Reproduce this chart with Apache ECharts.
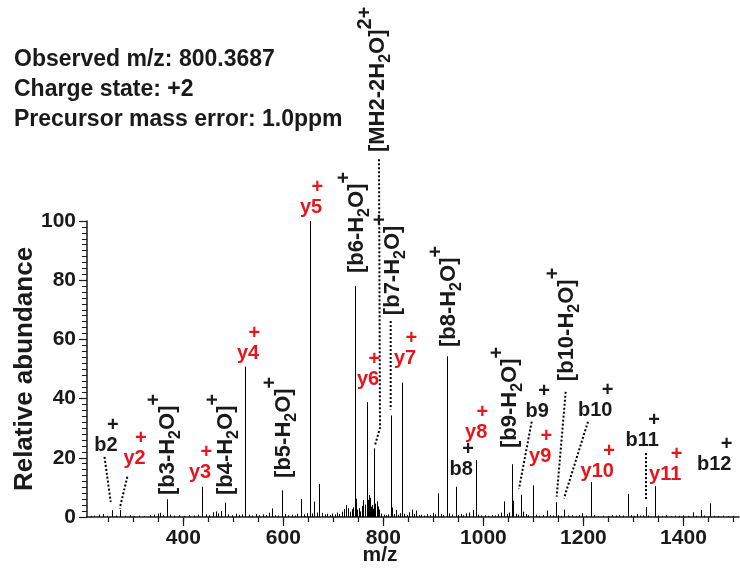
<!DOCTYPE html>
<html><head><meta charset="utf-8">
<script src="https://cdn.jsdelivr.net/npm/echarts@6/dist/echarts.min.js"></script>
<style>html,body{margin:0;padding:0;background:#fff}#c{width:740px;height:570px}</style>
</head><body><div id="c"></div>
<script>
const FONT = '"Liberation Sans", Arial, Helvetica, sans-serif';

// ---- Data ----
const peakMz = [215,222,232,239,247,258,265,274,283,293,301,312,322,333,341,349,353,360,367,374,382,392,401,412,421,430,437,445,452,459,465,470,475,483,490,497,505,512,517,524,531,538,545,552,560,566,572,578,584,590,597,603,610,617,623,628,635,641,647,654,658,662,667,671,677,683,688,693,698,703,708,712,717,721,725,729,733,737,740,743,745,748,751,754,757,760,763,767,769,771,773,775,777,779,782,784,787,789,792,796,801,806,810,815,817,821,825,830,834,838,842,847,852,857,862,866,871,876,882,888,893,899,904,910,915,920,928,932,938,945,950,955,960,966,972,979,985,990,996,1003,1010,1017,1024,1030,1036,1041,1047,1052,1057,1059,1065,1070,1075,1080,1085,1090,1100,1106,1112,1120,1127,1133,1139,1145,1150,1156,1162,1170,1178,1185,1192,1198,1205,1215,1222,1230,1240,1250,1258,1266,1272,1280,1290,1296,1302,1308,1313,1320,1325,1330,1343,1350,1358,1366,1375,1384,1392,1400,1410,1419,1426,1435,1442,1454,1462,1470,1480,1490,1500];
const peakAbund = [0.4,0.5,0.8,1.0,0.4,2.3,0.5,2.4,0.4,0.6,0.3,0.5,0.4,0.6,0.8,1.2,1.4,0.6,6.0,0.8,0.5,0.6,0.4,0.7,0.5,0.8,10.2,0.9,0.6,1.6,1.9,1.2,2.0,4.8,0.9,0.6,1.1,0.7,0.9,50.8,0.8,0.5,1.0,0.6,0.9,0.7,1.4,2.9,0.6,0.5,9.0,1.0,0.6,0.8,0.5,1.1,6.1,0.9,1.3,100,1.2,5.2,1.5,11.2,1.4,0.9,1.1,0.7,1.2,0.9,1.5,1.0,1.8,2.7,4.0,3.0,1.8,2.6,3.3,78.0,6.2,2.5,3.0,1.9,3.8,5.7,4.2,38.8,5.8,7.4,6.5,3.5,4.0,2.8,23.2,4.5,5.3,3.6,2.5,1.2,0.8,0.6,0.9,34.3,3.2,1.0,2.4,0.8,1.3,45.4,1.1,0.7,1.6,2.5,1.0,2.2,0.6,0.8,0.5,1.0,0.7,1.4,0.9,8.0,1.0,0.7,54.3,1.2,0.8,10.2,0.7,1.0,0.6,1.2,1.5,2.4,19.2,0.8,0.5,0.6,0.4,0.7,0.5,0.9,1.5,5.3,1.0,1.5,17.8,5.5,1.1,0.8,7.5,1.8,1.0,0.6,10.7,0.8,0.5,0.7,2.2,0.6,0.5,5.0,0.6,0.4,2.5,0.5,0.6,0.4,0.7,1.3,0.5,11.8,0.6,0.4,0.5,0.3,0.6,0.5,0.7,0.5,7.8,0.6,0.4,1.0,0.5,0.6,3.4,0.5,10.4,0.5,0.4,0.6,0.3,0.5,0.4,0.5,0.4,1.6,0.4,2.4,0.5,4.6,0.4,0.3,0.5,0.3,0.4];

const xLabelTicks = [400,600,800,1000,1200,1400];
const xMinorTicks = [250,300,350,400,450,500,550,600,650,700,750,800,850,900,950,1000,1050,1100,1150,1200,1250,1300,1350,1400,1450,1500];
const yTickLabels = [0,20,40,60,80,100];
const infoLines = ['Observed m/z: 800.3687','Charge state: +2','Precursor mass error: 1.0ppm'];

// fragment ion labels (horizontal), with '+' charge above
const ionLabelText = ['b2','y2','y3','y4','y5','y6','y7','b8','y8','b9','y9','b10','y10','b11','y11','b12'];
// neutral-loss labels (vertical). '_' = subscript next char, '^' = superscript rest
const lossLabelText = ['[b3-H_2O]^+','[b4-H_2O]^+','[b5-H_2O]^+','[b6-H_2O]^+','[MH2-2H_2O]^2+','[b7-H_2O]^+','[b8-H_2O]^+','[b9-H_2O]^+','[b10-H_2O]^+'];

// ---- Layout (label anchors in data units: m/z, abundance) ----
const ionLabelPos = [[245.5,24.3],[302.5,19.6],[433.5,15.2],[529.5,55.1],[655.5,104.4],[769.5,46.6],[843.5,53.7],[955.5,16.2],[985.5,28.7],[1107.5,35.5],[1113.5,20.3],[1223.5,36.1],[1227.5,15.5],[1317.5,26.0],[1363.5,14.4],[1461.5,17.6]];
const lossLabelPos = [[369.4,7.4],[485.4,7.4],[601.3,13.2],[747.3,82.4],[789.3,123.3],[819.3,68.2],[931.2,57.4],[1053.2,23.3],[1167.1,45.9]];
const leaderPaths = [
  [[242.5,20.3],[254.9,5.1]],
  [[288.1,13.6],[272.9,2.9]],
  [[791.3,120.9],[793.3,30.1],[783.3,24.3]],
  [[814.6,66.2],[814.6,36.3]],
  [[1096.5,32.2],[1071.1,9.5]],
  [[1164.5,42.3],[1146.5,6.9]],
  [[1209.1,32.2],[1161.1,6.3]],
  [[1325,21.6],[1325,5.7]]
];

// ---- Styles ----
const BLACK = '#1a1a1a';
const RED = '#e8141c';
const H_SIZE = 20, PLUS_SIZE = 20, V_SIZE = 22, SUB_SIZE = 16, SUP_SIZE = 20;

const mctx = document.createElement('canvas').getContext('2d');
function textW(s, size){ mctx.font = 'bold ' + size + 'px ' + FONT; return mctx.measureText(s).width; }
function parseLabel(s){
  const pieces = []; let buf = '';
  for (let i = 0; i < s.length; i++){
    const ch = s[i];
    if (ch === '_'){ if (buf) pieces.push({t:buf, k:'n'}); buf=''; pieces.push({t:s[i+1], k:'sub'}); i++; }
    else if (ch === '^'){ if (buf) pieces.push({t:buf, k:'n'}); buf=''; pieces.push({t:s.slice(i+1), k:'sup'}); break; }
    else buf += ch;
  }
  if (buf) pieces.push({t:buf, k:'n'});
  return pieces;
}

const chart = echarts.init(document.getElementById('c'), null, {renderer:'canvas'});
const xMin = 207.5, xMax = 1511;

const option = {
  animation: false,
  grid: {left: 87, right: 1, top: 221, bottom: 53, containLabel: false},
  xAxis: [
    {type:'value', min:xMin, max:xMax, position:'bottom',
     axisLine:{show:true, lineStyle:{color:BLACK, width:1.5}},
     axisTick:{show:true, customValues:xLabelTicks, length:9, lineStyle:{color:BLACK, width:1.2}},
     axisLabel:{show:true, customValues:xLabelTicks, margin:11, fontSize:21, fontWeight:'bold', fontFamily:FONT, color:BLACK,
       formatter: v => String(v)},
     splitLine:{show:false}},
    {type:'value', min:xMin, max:xMax, position:'bottom',
     axisLine:{show:false},
     axisTick:{show:true, customValues:xMinorTicks, length:5, lineStyle:{color:BLACK, width:1.2}},
     axisLabel:{show:false}, splitLine:{show:false}}
  ],
  yAxis: {type:'value', min:0, max:100, interval:20,
    axisLine:{show:true, lineStyle:{color:BLACK, width:1.5}},
    axisTick:{show:true, length:8, lineStyle:{color:BLACK, width:1.2}},
    minorTick:{show:true, splitNumber:10, length:5, lineStyle:{color:BLACK, width:1}},
    axisLabel:{margin:11, fontSize:21, fontWeight:'bold', fontFamily:FONT, color:BLACK,
      formatter: v => yTickLabels.indexOf(v) >= 0 ? String(v) : ''},
    splitLine:{show:false}},
  graphic: [
    ...infoLines.map((t, i) => ({type:'text', x:14, y:60 + i*30,
      style:{text:t, font:'bold 23px ' + FONT, fill:BLACK, align:'left', verticalAlign:'middle'}})),
    {type:'text', x:25, y:369, rotation:Math.PI/2,
      style:{text:'Relative abundance', font:'bold 26px ' + FONT, fill:BLACK, align:'center', verticalAlign:'middle'}},
    {type:'text', x:380, y:555,
      style:{text:'m/z', font:'bold 21px ' + FONT, fill:BLACK, align:'center', verticalAlign:'middle'}}
  ],
  series: [
    {type:'custom', name:'peaks', xAxisIndex:0, clip:false,
     data: peakMz.map((m, i) => [m, peakAbund[i]]),
     renderItem(params, api){
       const p0 = api.coord([api.value(0), 0]);
       const p1 = api.coord([api.value(0), api.value(1)]);
       const x = Math.round(p0[0]) + 0.5;
       return {type:'line', shape:{x1:x, y1:p0[1], x2:x, y2:p1[1]}, style:{stroke:'#000', lineWidth:1}};
     }},
    {type:'custom', name:'leaders', xAxisIndex:0, clip:false,
     data: leaderPaths.map(p => p[0]),
     renderItem(params, api){
       const pts = leaderPaths[params.dataIndex].map(p => api.coord(p));
       return {type:'polyline', shape:{points:pts}, style:{stroke:'#000', lineWidth:2, lineDash:[2,2], fill:null}};
     }},
    {type:'custom', name:'ionLabels', xAxisIndex:0, clip:false,
     data: ionLabelPos,
     renderItem(params, api){
       const i = params.dataIndex;
       const txt = ionLabelText[i];
       const color = txt[0] === 'y' ? RED : BLACK;
       const p = api.coord([api.value(0), api.value(1)]);
       const w = textW(txt, H_SIZE);
       return {type:'group', x:p[0], y:p[1], children:[
         {type:'text', style:{text:txt, x:0, y:0, align:'center', verticalAlign:'middle', font:'bold ' + H_SIZE + 'px ' + FONT, fill:color}},
         {type:'text', style:{text:'+', x:w/2 + 1, y:-20, align:'right', verticalAlign:'middle', font:'bold ' + PLUS_SIZE + 'px ' + FONT, fill:color}}
       ]};
     }},
    {type:'custom', name:'lossLabels', xAxisIndex:0, clip:false,
     data: lossLabelPos,
     renderItem(params, api){
       const i = params.dataIndex;
       const pieces = parseLabel(lossLabelText[i]);
       const p = api.coord([api.value(0), api.value(1)]);
       const children = [];
       let cx = 0;
       pieces.forEach(pc => {
         const size = pc.k === 'n' ? V_SIZE : (pc.k === 'sub' ? SUB_SIZE : SUP_SIZE);
         const dy = pc.k === 'n' ? 0 : (pc.k === 'sub' ? 8 : -13);
         children.push({type:'text', style:{text:pc.t, x:cx, y:dy, align:'left', verticalAlign:'middle', font:'bold ' + size + 'px ' + FONT, fill:BLACK}});
         cx += textW(pc.t, size);
       });
       return {type:'group', x:p[0], y:p[1], rotation:Math.PI/2, children};
     }}
  ]
};
chart.setOption(option);
</script>
</body></html>
